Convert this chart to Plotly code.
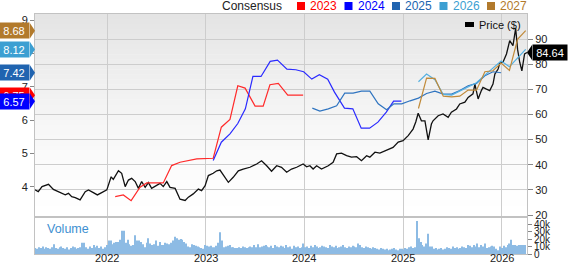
import plotly.graph_objects as go
import pandas as pd

# ---------------- data ----------------
price_dates = [
    "2021-04-09","2021-04-21","2021-05-05","2021-05-17","2021-05-29","2021-06-16","2021-07-11","2021-07-30",
    "2021-08-11","2021-08-23","2021-09-05","2021-09-23","2021-10-12","2021-10-24","2021-11-11","2021-11-26",
    "2021-12-12","2021-12-31",
    "2022-01-16","2022-01-24","2022-02-12","2022-02-24","2022-03-09","2022-03-21","2022-04-02","2022-04-15",
    "2022-04-27","2022-05-09","2022-05-22","2022-06-03","2022-06-15","2022-07-04","2022-07-16","2022-07-28",
    "2022-08-10","2022-08-22","2022-09-10","2022-09-28","2022-10-17","2022-10-29","2022-11-16","2022-12-05",
    "2022-12-17","2022-12-30",
    "2023-01-11","2023-01-29","2023-02-11","2023-02-23","2023-03-14","2023-03-26","2023-04-13","2023-05-02",
    "2023-05-20","2023-06-14","2023-07-09","2023-07-27","2023-08-15","2023-09-02","2023-09-21","2023-10-09",
    "2023-10-28","2023-11-15","2023-12-04","2023-12-28",
    "2024-01-10","2024-01-22","2024-02-03","2024-02-16","2024-03-05","2024-03-18","2024-03-30","2024-04-17",
    "2024-04-30","2024-05-18","2024-06-06","2024-06-24","2024-07-13","2024-07-31","2024-08-19","2024-08-31",
    "2024-09-19","2024-10-07","2024-10-26","2024-11-25","2024-12-14",
    "2025-01-01","2025-01-20","2025-02-07","2025-02-17","2025-02-26","2025-03-10","2025-03-23","2025-04-04",
    "2025-04-16","2025-04-22","2025-05-11","2025-05-29","2025-06-17","2025-06-29","2025-07-18","2025-07-30",
    "2025-08-18","2025-08-30","2025-09-17","2025-09-24","2025-10-06","2025-10-18","2025-10-24","2025-11-06",
    "2025-11-18","2025-11-30","2025-12-07","2025-12-19","2025-12-25",
    "2026-01-06","2026-01-19","2026-01-31","2026-02-12","2026-02-22","2026-03-01","2026-03-09","2026-03-17",
    "2026-03-27","2026-04-05",
]
price_values = [
    30.0, 29.3, 31.3, 31.8, 32.2, 30.2, 29.0, 28.0,
    28.6, 27.3, 26.9, 26.0, 29.3, 30.0, 28.9, 28.0,
    28.9, 30.0,
    35.2, 34.2, 37.6, 36.6, 31.3, 33.9, 34.6, 33.3,
    30.6, 33.3, 31.0, 32.9, 30.6, 32.0, 32.6, 31.3,
    33.3, 31.0, 30.6, 26.3, 25.8, 27.1, 28.4, 30.3,
    29.7, 31.7,
    35.7, 36.6, 37.6, 37.9, 34.6, 33.0, 35.0, 37.6,
    38.3, 39.0, 40.3, 41.6, 39.6, 37.4, 39.6, 39.0,
    37.0, 38.3, 39.0, 40.3,
    39.2, 39.6, 38.3, 39.6, 38.3, 39.0, 39.6, 41.0,
    44.3, 44.6, 43.6, 43.0, 43.2, 41.6, 43.6, 43.0,
    45.0, 44.6, 45.6, 46.9, 49.0,
    49.6, 51.6, 54.2, 57.0, 60.5, 57.5, 57.5, 49.9,
    56.2, 57.5, 59.5, 60.2, 58.9, 60.9, 62.2, 64.2,
    64.9, 66.8, 68.2, 72.1, 66.2, 69.5, 70.8, 70.1,
    69.5, 72.1, 76.1, 78.1, 80.4,
    80.8, 84.1, 89.4, 87.4, 94.3, 86.0, 80.8, 77.4,
    84.1, 84.64,
]

eps_2023_dates = ["2022-01-31","2022-03-02","2022-03-31","2022-05-03","2022-05-28","2022-07-28","2022-08-28",
                  "2022-09-28","2022-11-29","2023-01-29","2023-02-28","2023-04-01","2023-04-30","2023-05-27",
                  "2023-07-03","2023-08-02","2023-08-27","2023-09-27","2023-11-01","2023-12-28"]
eps_2023 = [3.71, 3.76, 3.59, 3.99, 4.12, 4.12, 4.64, 4.74, 4.84, 4.86, 5.79, 6.02, 7.03, 6.96,
            6.42, 6.42, 7.06, 7.10, 6.75, 6.75]

eps_2024_dates = ["2023-01-29","2023-02-28","2023-04-01","2023-04-30","2023-05-28","2023-06-25","2023-07-25",
                  "2023-08-28","2023-09-24","2023-10-29","2023-12-01","2023-12-30","2024-01-29","2024-02-26",
                  "2024-03-28","2024-04-22","2024-05-29","2024-06-29","2024-07-30","2024-08-30","2024-09-30",
                  "2024-10-31","2024-11-27","2024-12-26"]
eps_2024 = [4.79, 5.34, 5.59, 5.90, 6.34, 7.31, 7.31, 7.76, 7.80, 7.53, 7.51, 7.45, 7.23, 7.36,
            7.23, 6.84, 6.36, 6.34, 5.76, 5.76, 5.94, 6.24, 6.57, 6.57]

eps_2025_dates = ["2024-01-31","2024-02-28","2024-03-30","2024-04-30","2024-05-30","2024-06-30","2024-07-31",
                  "2024-08-31","2024-10-01","2024-11-01","2024-11-28","2024-12-27","2025-01-27","2025-02-27",
                  "2025-03-29","2025-04-29","2025-05-30","2025-06-30","2025-07-30","2025-08-30","2025-09-30",
                  "2025-10-31","2025-11-30","2025-12-30"]
eps_2025 = [6.36, 6.27, 6.34, 6.43, 6.81, 6.81, 6.87, 6.87, 6.49, 6.31, 6.49, 6.49, 6.58, 6.66,
            6.80, 6.87, 6.78, 6.78, 6.89, 7.03, 7.10, 7.33, 7.45, 7.42]

eps_2026_dates = ["2025-02-27","2025-03-29","2025-04-29","2025-05-30","2025-06-30","2025-07-30","2025-08-30",
                  "2025-09-30","2025-10-31","2025-11-30","2025-12-30","2026-01-30","2026-03-01","2026-03-31"]
eps_2026 = [7.15, 7.38, 7.21, 6.77, 6.75, 6.87, 7.00, 7.12, 7.35, 7.55, 7.77, 7.60, 7.85, 8.12]

eps_2027_dates = eps_2026_dates
eps_2027 = [6.35, 7.26, 7.25, 6.72, 6.70, 6.72, 6.90, 6.90, 7.45, 7.48, 7.71, 7.49, 8.42, 8.68]

vol_start = "2021-04-09"
volume_k = [
    # 2021
    8, 7, 9, 8, 10, 7, 9, 8, 7, 9,
    13, 8, 7, 9, 10, 8, 7, 9, 6, 8,
    10, 9, 7, 8, 9, 15, 15, 9, 7, 10,
    8, 12, 9, 11, 8, 10, 7, 9,
    # 2022
    12, 18, 18, 13, 15, 16, 16, 19, 31, 31,
    15, 19, 13, 11, 12, 25, 18, 18, 16, 13,
    9, 15, 21, 14, 12, 13, 18, 11, 16, 12,
    12, 15, 14, 13, 15, 18, 23, 21, 19, 20,
    19, 16, 14, 10, 9, 13, 12, 11, 10, 9,
    8, 7,
    # 2023
    12, 11, 10, 11, 9, 9, 11, 15, 29, 18,
    9, 10, 11, 12, 9, 9, 8, 8, 9, 8,
    10, 9, 8, 9, 10, 9, 12, 9, 13, 9,
    10, 11, 12, 10, 9, 11, 8, 12, 10, 9,
    11, 10, 8, 12, 9, 10, 7, 11, 9, 10,
    8, 9,
    # 2024
    14, 9, 10, 8, 11, 9, 12, 10, 8, 9,
    11, 10, 9, 8, 12, 10, 9, 11, 8, 9,
    10, 12, 9, 8, 10, 9, 11, 10, 9, 14,
    12, 9, 8, 10, 9, 8, 7, 9, 8, 7,
    6, 8, 7, 6, 7, 5, 6, 7, 8, 6,
    5, 7,
    # 2025
    7, 6, 8, 7, 9, 10, 8, 9, 44, 21,
    16, 12, 10, 14, 27, 10, 10, 7, 8, 6,
    7, 8, 6, 7, 9, 8, 7, 10, 8, 9,
    7, 8, 10, 9, 8, 12, 11, 9, 12, 10,
    14, 9, 12, 10, 14, 8, 9, 10, 11, 10,
    7, 5,
    # 2026
    10, 8, 11, 9, 12, 14, 19, 12, 12, 11, 12, 12, 12, 12,
]

year_ticks = ["2022-01-01", "2023-01-01", "2024-01-01", "2025-01-01", "2026-01-01"]
year_labels = ["2022", "2023", "2024", "2025", "2026"]
price_ticks = [20, 30, 40, 50, 60, 70, 80, 90]
eps_ticks = [4, 5, 6, 7, 8, 9]
vol_ticks = [0, 10, 20, 30, 40]
vol_labels = ["0", "10k", "20k", "30k", "40k"]

series = [
    ("2023", eps_2023_dates, eps_2023, "#ff0000", "#ff2a2a"),
    ("2024", eps_2024_dates, eps_2024, "#0000ff", "#2a2aff"),
    ("2025", eps_2025_dates, eps_2025, "#2064b0", "#2f74c0"),
    ("2026", eps_2026_dates, eps_2026, "#3c9fd2", "#55b0e0"),
    ("2027", eps_2027_dates, eps_2027, "#b27a2c", "#c08a3a"),
]

# ---------------- layout constants ----------------
W, H = 568, 264
ML, MR, MT, MB = 35, 41, 14, 10
PW, PH = W - ML - MR, H - MT - MB
X_RANGE = ["2021-04-09", "2026-04-05"]
MAIN_DOM = [(H - MB - 216) / PH, 1.0]
VOL_DOM = [0.0, (H - MB - 218) / PH]
PRICE_RANGE = [19.6, 100]
EPS_RANGE = [3.13, 9.18]
VOL_RANGE = [0, 48]
FONT = "Arial, Liberation Sans, sans-serif"
GRID = "#cdcdcd"
LINE = "#c2c2c2"


def px_x(px):
    return (px - ML) / PW


def px_y(py):
    return (H - MB - py) / PH


def eps_paper(v):
    return MAIN_DOM[0] + (v - EPS_RANGE[0]) / (EPS_RANGE[1] - EPS_RANGE[0]) * (MAIN_DOM[1] - MAIN_DOM[0])


def price_paper(v):
    return MAIN_DOM[0] + (v - PRICE_RANGE[0]) / (PRICE_RANGE[1] - PRICE_RANGE[0]) * (MAIN_DOM[1] - MAIN_DOM[0])


fig = go.Figure()

for name, d, v, tagc, linec in series:
    fig.add_trace(go.Scatter(x=d, y=v, mode="lines", name=name, xaxis="x", yaxis="y2",
                             line=dict(color=linec, width=1.2), showlegend=False))

fig.add_trace(go.Scatter(x=price_dates, y=price_values, mode="lines", name="Price ($)",
                         xaxis="x", yaxis="y", line=dict(color="#111111", width=1.3), showlegend=False))

vol_dates = pd.date_range(vol_start, periods=len(volume_k), freq="7D")
fig.add_trace(go.Bar(x=vol_dates, y=volume_k, xaxis="x2", yaxis="y3", showlegend=False,
                     marker=dict(color="#8dbbe4", line=dict(width=0))))

shapes = []
# gradient background of main panel
nb = 40
for i in range(nb):
    f0 = i / nb
    f1 = (i + 1) / nb
    fm = (f0 + f1) / 2
    c = int(round(255 - 27 * fm ** 1.4))
    shapes.append(dict(type="rect", xref="paper", yref="paper", x0=0, x1=1,
                       y0=MAIN_DOM[0] + f0 * (1 - MAIN_DOM[0]), y1=MAIN_DOM[0] + f1 * (1 - MAIN_DOM[0]) + 0.001,
                       fillcolor=f"rgb({c},{c},{c})", line=dict(width=0), layer="below"))
# separator band
shapes.append(dict(type="rect", xref="paper", yref="paper", x0=0, x1=1, y0=VOL_DOM[1], y1=MAIN_DOM[0],
                   fillcolor="#e3e3e3", line=dict(width=0), layer="below"))

annotations = []
# top legend
annotations.append(dict(xref="paper", yref="paper", x=px_x(284), y=px_y(6), xanchor="right", yanchor="middle",
                        text="Consensus", showarrow=False, font=dict(family=FONT, size=12, color="#222")))
for i, (name, d, v, tagc, linec) in enumerate(series):
    sx = 297 + 47.5 * i
    shapes.append(dict(type="rect", xref="paper", yref="paper", x0=px_x(sx), x1=px_x(sx + 8),
                       y0=px_y(10), y1=px_y(2), fillcolor=tagc, line=dict(width=0)))
    annotations.append(dict(xref="paper", yref="paper", x=px_x(sx + 11), y=px_y(6), xanchor="left",
                            yanchor="middle", text=name, showarrow=False,
                            font=dict(family=FONT, size=12, color=tagc)))

# price legend inside plot
shapes.append(dict(type="rect", xref="paper", yref="paper", x0=px_x(465), x1=px_x(474), y0=px_y(27),
                   y1=px_y(22), fillcolor="#000", line=dict(width=0)))
annotations.append(dict(xref="paper", yref="paper", x=px_x(477), y=px_y(25), xanchor="left", yanchor="middle",
                        text="Price ($)", showarrow=False, font=dict(family=FONT, size=11, color="#111")))

# left EPS tags (drawn so the 2024 tag sits on top of the 2023 tag)
tip = 5 / PW
half = 7.5 / PH
for name, d, v, tagc, linec in [series[4], series[3], series[2], series[0], series[1]]:
    yv = eps_paper(v[-1])
    annotations.append(dict(xref="paper", yref="paper", x=0, y=yv, xanchor="right", yanchor="middle",
                            xshift=-5, text=f"{v[-1]:.2f}", showarrow=False, bgcolor=tagc,
                            width=26, height=11, borderpad=2,
                            font=dict(family=FONT, size=11, color="#ffffff")))
    shapes.append(dict(type="path", xref="paper", yref="paper",
                       path=f"M {-tip} {yv - half} L 0 {yv} L {-tip} {yv + half} Z",
                       fillcolor=tagc, line=dict(width=0)))

# right price tag
last_price = price_values[-1]
pyv = price_paper(last_price)
annotations.append(dict(xref="paper", yref="paper", x=1, y=pyv, xanchor="left", yanchor="middle",
                        xshift=5, text=f"{last_price:.2f}", showarrow=False, bgcolor="#000000",
                        width=30, height=11, borderpad=2, font=dict(family=FONT, size=11, color="#ffffff")))
shapes.append(dict(type="path", xref="paper", yref="paper",
                   path=f"M {1 + tip} {pyv - half} L 1 {pyv} L {1 + tip} {pyv + half} Z",
                   fillcolor="#000000", line=dict(width=0)))

# volume label
annotations.append(dict(xref="paper", yref="paper", x=px_x(45), y=px_y(229), xanchor="left", yanchor="middle",
                        text="Volume", showarrow=False, font=dict(family=FONT, size=12.5, color="#3d8fd1")))

# year labels under the volume panel
for tv, tl in zip(year_ticks, year_labels):
    annotations.append(dict(xref="x2", yref="paper", x=tv, y=px_y(257.5), xanchor="center", yanchor="middle",
                            text=tl, showarrow=False, font=dict(family=FONT, size=11, color="#222")))

fig.update_layout(
    width=W, height=H,
    margin=dict(l=ML, r=MR, t=MT, b=MB, pad=0, autoexpand=False),
    paper_bgcolor="#ffffff", plot_bgcolor="rgba(0,0,0,0)",
    font=dict(family=FONT, size=11, color="#222"),
    showlegend=False,
    bargap=0.45,
    xaxis=dict(domain=[0, 1], anchor="y", type="date", range=X_RANGE, tickvals=year_ticks,
               showticklabels=False, ticks="", showgrid=True, gridcolor=GRID, gridwidth=1,
               showline=True, linecolor=LINE, mirror=True, zeroline=False, automargin=False),
    yaxis=dict(domain=MAIN_DOM, anchor="x", side="right", range=PRICE_RANGE, tickvals=price_ticks,
               showgrid=True, gridcolor=GRID, gridwidth=1, showline=True, linecolor=LINE, mirror=True,
               ticks="outside", ticklen=5, tickcolor="#888", zeroline=False, automargin=False,
               tickfont=dict(family=FONT, size=11, color="#222")),
    yaxis2=dict(overlaying="y", anchor="x", side="left", range=EPS_RANGE, tickvals=eps_ticks,
                showgrid=False, showline=False, ticks="outside", ticklen=4, tickcolor="#888", zeroline=False,
                automargin=False, tickfont=dict(family=FONT, size=11, color="#222")),
    xaxis2=dict(domain=[0, 1], anchor="y3", type="date", matches="x", range=X_RANGE, tickvals=year_ticks,
                showticklabels=False, showgrid=True, gridcolor=GRID, gridwidth=1, showline=True,
                linecolor=LINE, mirror=True, ticks="", zeroline=False, automargin=False),
    yaxis3=dict(domain=VOL_DOM, anchor="x2", side="right", range=VOL_RANGE, tickvals=vol_ticks,
                ticktext=vol_labels, showgrid=False, showline=True, linecolor=LINE, mirror=True,
                ticks="outside", ticklen=4, tickcolor="#888", zeroline=False, automargin=False,
                tickfont=dict(family=FONT, size=10, color="#222")),
    shapes=shapes,
    annotations=annotations,
)

fig.write_html("out.html")
